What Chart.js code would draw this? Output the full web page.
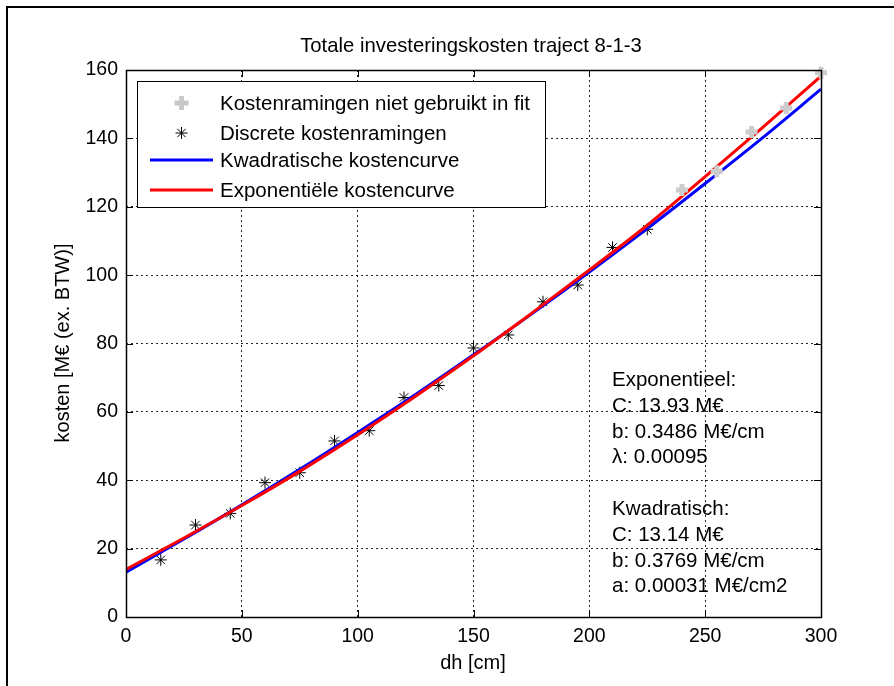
<!DOCTYPE html>
<html>
<head>
<meta charset="utf-8">
<script src="https://cdn.jsdelivr.net/npm/chart.js@4"></script>
<style>
  html, body { margin: 0; padding: 0; background: #fff; }
  #wrap { position: relative; width: 894px; height: 686px; overflow: hidden;
          font-family: "Liberation Sans", Arial, sans-serif; color: #000; }
  #frame { position: absolute; left: 6px; top: 6px; width: 900px; height: 700px;
           border-left: 2px solid #000; border-top: 2px solid #000; }
  canvas { position: absolute; left: 0; top: 0; }
  .txt { position: absolute; white-space: nowrap; font-size: 20px; line-height: 1; }
  #title { left: 0; width: 942px; top: 35px; text-align: center; font-size: 20.3px; }
  #xlabel { left: 0; width: 946px; top: 652px; text-align: center; font-size: 20px; }
  #ylabel { left: 62px; top: 343px; transform: translate(-50%, -50%) rotate(-90deg); font-size: 20px; }
  #legend { position: absolute; left: 137px; top: 81px; width: 407px; height: 125px;
            border: 1px solid #000; background: #fff; }
  .row { position: absolute; left: 0; height: 24px; width: 100%; }
  .row svg { position: absolute; left: 12px; top: 0; }
  .row span { position: absolute; left: 82px; top: 2px; font-size: 20.5px; line-height: 1; white-space: nowrap; }
  #notes { position: absolute; left: 612px; top: 366px; font-size: 20.5px; line-height: 25.8px; white-space: nowrap; }
</style>
</head>
<body>
<div id="wrap">
  <canvas id="kostenChart" width="894" height="686"></canvas>
  <div id="frame"></div>
  <div id="title" class="txt">Totale investeringskosten traject 8-1-3</div>
  <div id="xlabel" class="txt">dh [cm]</div>
  <div id="ylabel" class="txt">kosten [M€ (ex. BTW)]</div>
  <div id="legend"></div>
  <div id="notes"></div>
</div>
<script>
// dh [cm] en kosten [M€]
const dhDiscrete = [15, 30, 45, 60, 75, 90, 105, 120, 135, 150, 165, 180, 195, 210, 225];
const kostenDiscrete = [16.7, 26.9, 30.3, 39.3, 42.2, 51.5, 54.5, 64.2, 67.7, 78.7, 82.5, 92.2, 97.1, 108.1, 113.4];

const dhNietGebruikt = [240, 255, 270, 285, 300];
const kostenNietGebruikt = [124.9, 130.4, 141.9, 148.9, 159.2];

const dhCurve = [0, 25, 50, 75, 100, 125, 150, 175, 200, 225, 250, 275, 300];
const kostenKwadratisch = [13.1, 22.8, 32.8, 43.2, 54.0, 65.1, 76.7, 88.6, 100.9, 113.6, 126.8, 140.3, 154.4];
const kostenExponentieel = [13.9, 23.1, 32.6, 42.6, 53.3, 64.6, 76.4, 88.8, 101.5, 114.6, 128.8, 143.3, 158.2];

const xTicks = [0, 50, 100, 150, 200, 250, 300];
const yTicks = [0, 20, 40, 60, 80, 100, 120, 140, 160];

const legendItems = [
    { label: 'Kostenramingen niet gebruikt in fit', kind: 'plus', color: '#c8c8c8' },
    { label: 'Discrete kostenramingen', kind: 'star', color: '#000000' },
    { label: 'Kwadratische kostencurve', kind: 'line', color: '#0000ff' },
    { label: 'Exponentiële kostencurve', kind: 'line', color: '#ff0000' }
];

const noteLines = [
    'Exponentieel:', 'C: 13.93 M€', 'b: 0.3486 M€/cm', 'λ: 0.00095', '',
    'Kwadratisch:', 'C: 13.14 M€', 'b: 0.3769 M€/cm', 'a: 0.00031 M€/cm2'
];

const pairs = (xs, ys) => xs.map((x, i) => ({ x, y: ys[i] }));

// legend + annotation as html text
const legendEl = document.getElementById('legend');
const rowTops = [9, 39, 66, 96];
legendItems.forEach((item, i) => {
    const row = document.createElement('div');
    row.className = 'row';
    row.style.top = rowTops[i] + 'px';
    let sym = '';
    if (item.kind === 'line') {
        sym = `<line x1="0" y1="12" x2="63" y2="12" stroke="${item.color}" stroke-width="3"/>`;
    } else if (item.kind === 'plus') {
        sym = `<path d="M31.5 5 V19 M24.5 12 H38.5" stroke="${item.color}" stroke-width="5"/>`;
    } else {
        sym = `<path d="M31.5 6 V18 M25.5 12 H37.5 M27.3 7.8 L35.7 16.2 M35.7 7.8 L27.3 16.2" stroke="${item.color}" stroke-width="1"/>`;
    }
    row.innerHTML = `<svg width="64" height="24">${sym}</svg><span>${item.label}</span>`;
    legendEl.appendChild(row);
});
document.getElementById('notes').innerHTML = noteLines.map(l => l || '&nbsp;').join('<br>');

// inward ticks and solid box round the axes, like the original
const axesBox = {
    id: 'axesBox',
    afterDraw(chart) {
        const { ctx, chartArea: a, scales } = chart;
        ctx.save();
        ctx.strokeStyle = '#000';
        ctx.lineWidth = 1;
        ctx.setLineDash([]);
        ctx.beginPath();
        xTicks.forEach(v => {
            const px = Math.round(scales.x.getPixelForValue(v)) + 0.5;
            ctx.moveTo(px, a.bottom); ctx.lineTo(px, a.bottom - 7);
            ctx.moveTo(px, a.top); ctx.lineTo(px, a.top + 7);
        });
        yTicks.forEach(v => {
            const py = Math.round(scales.y.getPixelForValue(v)) + 0.5;
            ctx.moveTo(a.left, py); ctx.lineTo(a.left + 7, py);
            ctx.moveTo(a.right, py); ctx.lineTo(a.right - 7, py);
        });
        ctx.stroke();
        ctx.lineWidth = 1.5;
        ctx.strokeRect(Math.round(a.left) + 0.5, Math.round(a.top) + 0.5,
            Math.round(a.right - a.left), Math.round(a.bottom - a.top));
        ctx.restore();
    }
};

const gridOpts = { color: 'rgba(0,0,0,0.85)', lineWidth: 1, drawTicks: false };
const tickFont = { family: '"Liberation Sans", Arial, sans-serif', size: 19.5 };

new Chart(document.getElementById('kostenChart'), {
    type: 'line',
    data: {
        datasets: [{
            label: 'Kostenramingen niet gebruikt in fit',
            data: pairs(dhNietGebruikt, kostenNietGebruikt),
            showLine: false,
            clip: false,
            pointStyle: 'cross',
            pointRadius: 6,
            borderColor: '#cccccc',
            borderWidth: 5
        }, {
            label: 'Exponentiële kostencurve',
            data: pairs(dhCurve, kostenExponentieel),
            borderColor: '#ff0000',
            borderWidth: 3,
            pointRadius: 0,
            cubicInterpolationMode: 'monotone',
            fill: false
        }, {
            label: 'Kwadratische kostencurve',
            data: pairs(dhCurve, kostenKwadratisch),
            borderColor: '#0000ff',
            borderWidth: 3,
            pointRadius: 0,
            cubicInterpolationMode: 'monotone',
            fill: false
        }, {
            label: 'Discrete kostenramingen',
            data: pairs(dhDiscrete, kostenDiscrete),
            showLine: false,
            pointStyle: 'star',
            pointRadius: 6,
            borderColor: '#000',
            borderWidth: 1
        }]
    },
    options: {
        responsive: false,
        animation: false,
        events: [],
        layout: { padding: { left: 0, top: 70, right: 73, bottom: 0 } },
        plugins: { legend: { display: false }, tooltip: { enabled: false } },
        scales: {
            x: {
                type: 'linear', min: 0, max: 300,
                afterFit: s => { s.height = 69; },
                afterBuildTicks: s => { s.ticks = xTicks.map(v => ({ value: v })); },
                ticks: { color: '#000', font: tickFont, padding: 8, maxRotation: 0 },
                grid: gridOpts,
                border: { display: false, dash: [2, 3] }
            },
            y: {
                type: 'linear', min: 0, max: 160,
                afterFit: s => { s.width = 126; },
                afterBuildTicks: s => { s.ticks = yTicks.map(v => ({ value: v })); },
                ticks: { color: '#000', font: tickFont, padding: 8 },
                grid: gridOpts,
                border: { display: false, dash: [2, 3] }
            }
        }
    },
    plugins: [axesBox]
});
</script>
</body>
</html>
